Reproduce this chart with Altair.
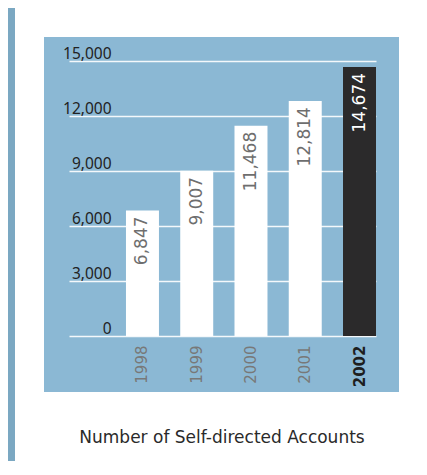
import altair as alt
import pandas as pd

years = ["1998", "1999", "2000", "2001", "2002"]
accounts = [6847, 9007, 11468, 12814, 14674]
y_ticks = [0, 3000, 6000, 9000, 12000, 15000]
title_text = "Number of Self-directed Accounts"

df = pd.DataFrame({"year": years, "value": accounts})

PANEL = "#8bb8d4"
FRAME = "#7ba8c2"
DARK = "#2b2a2b"

one = alt.Data(values=[{"k": 1}])


def rect(x1, x2, y1, y2, color):
    return alt.Chart(one).mark_rect(color=color).encode(
        x=alt.value(x1), x2=alt.value(x2), y=alt.value(y1), y2=alt.value(y2)
    )


decor = [
    rect(-61, -54, -53, 400, FRAME),
    rect(-54, -25, -53, 400, "white"),
    rect(330, 344, -53, 400, "white"),
    rect(-25, 330, -53, -24, "white"),
    rect(-25, 330, 331, 400, "white"),
]

is_last = "datum.year == '2002'"

x_enc = alt.X(
    "year:N",
    sort=years,
    scale=alt.Scale(paddingInner=0.392, paddingOuter=0.525, align=1),
    axis=alt.Axis(
        title=None,
        labelAngle=270,
        labelAlign="right",
        labelBaseline="middle",
        labelPadding=9,
        ticks=False,
        tickSize=0,
        domain=False,
        grid=False,
        labelFont="DejaVu Sans",
        labelFontSize=15,
        labelColor=alt.condition("datum.value == '2002'", alt.value("#1e1e1e"), alt.value("#787878")),
        labelFontWeight=alt.condition("datum.value == '2002'", alt.value("bold"), alt.value("normal")),
    ),
)
y_enc = alt.Y(
    "value:Q",
    scale=alt.Scale(domain=[0, 15000], nice=False, zero=True),
    axis=alt.Axis(
        title=None,
        values=y_ticks,
        format=",d",
        grid=True,
        gridColor="white",
        gridWidth=1.5,
        gridOpacity=0.9,
        domain=False,
        ticks=False,
        tickSize=0,
        labelPadding=-42,
        labelAlign="right",
        labelBaseline="alphabetic",
        labelOffset=-3,
        labelFont="Noto Sans",
        labelFontSize=15.5,
        labelColor="#222222",
    ),
)

bars = alt.Chart(df).mark_bar().encode(
    x=x_enc,
    y=y_enc,
    color=alt.condition(is_last, alt.value(DARK), alt.value("white")),
)

labels = alt.Chart(df).mark_text(
    angle=270, align="right", baseline="middle", dx=-6, fontSize=17, font="DejaVu Sans"
).encode(
    x=alt.X("year:N", sort=years),
    y=alt.Y("value:Q"),
    text=alt.Text("value:Q", format=","),
    color=alt.condition(is_last, alt.value("white"), alt.value("#6e6e6e")),
)

title = alt.Chart(alt.Data(values=[{"t": title_text}])).mark_text(
    align="center", baseline="alphabetic", font="DejaVu Sans", fontSize=17, color="#2a2a2a"
).encode(text="t:N", x=alt.value(153), y=alt.value(381.5))

chart = alt.layer(*decor, bars, labels, title).properties(
    width=307,
    height=275,
    autosize=alt.AutoSizeParams(type="none"),
    padding={"left": 61, "top": 53, "right": 37, "bottom": 125},
    background=PANEL,
).configure_view(stroke="transparent")

chart.save("out.html", embed_options={"renderer": "svg", "actions": False})
